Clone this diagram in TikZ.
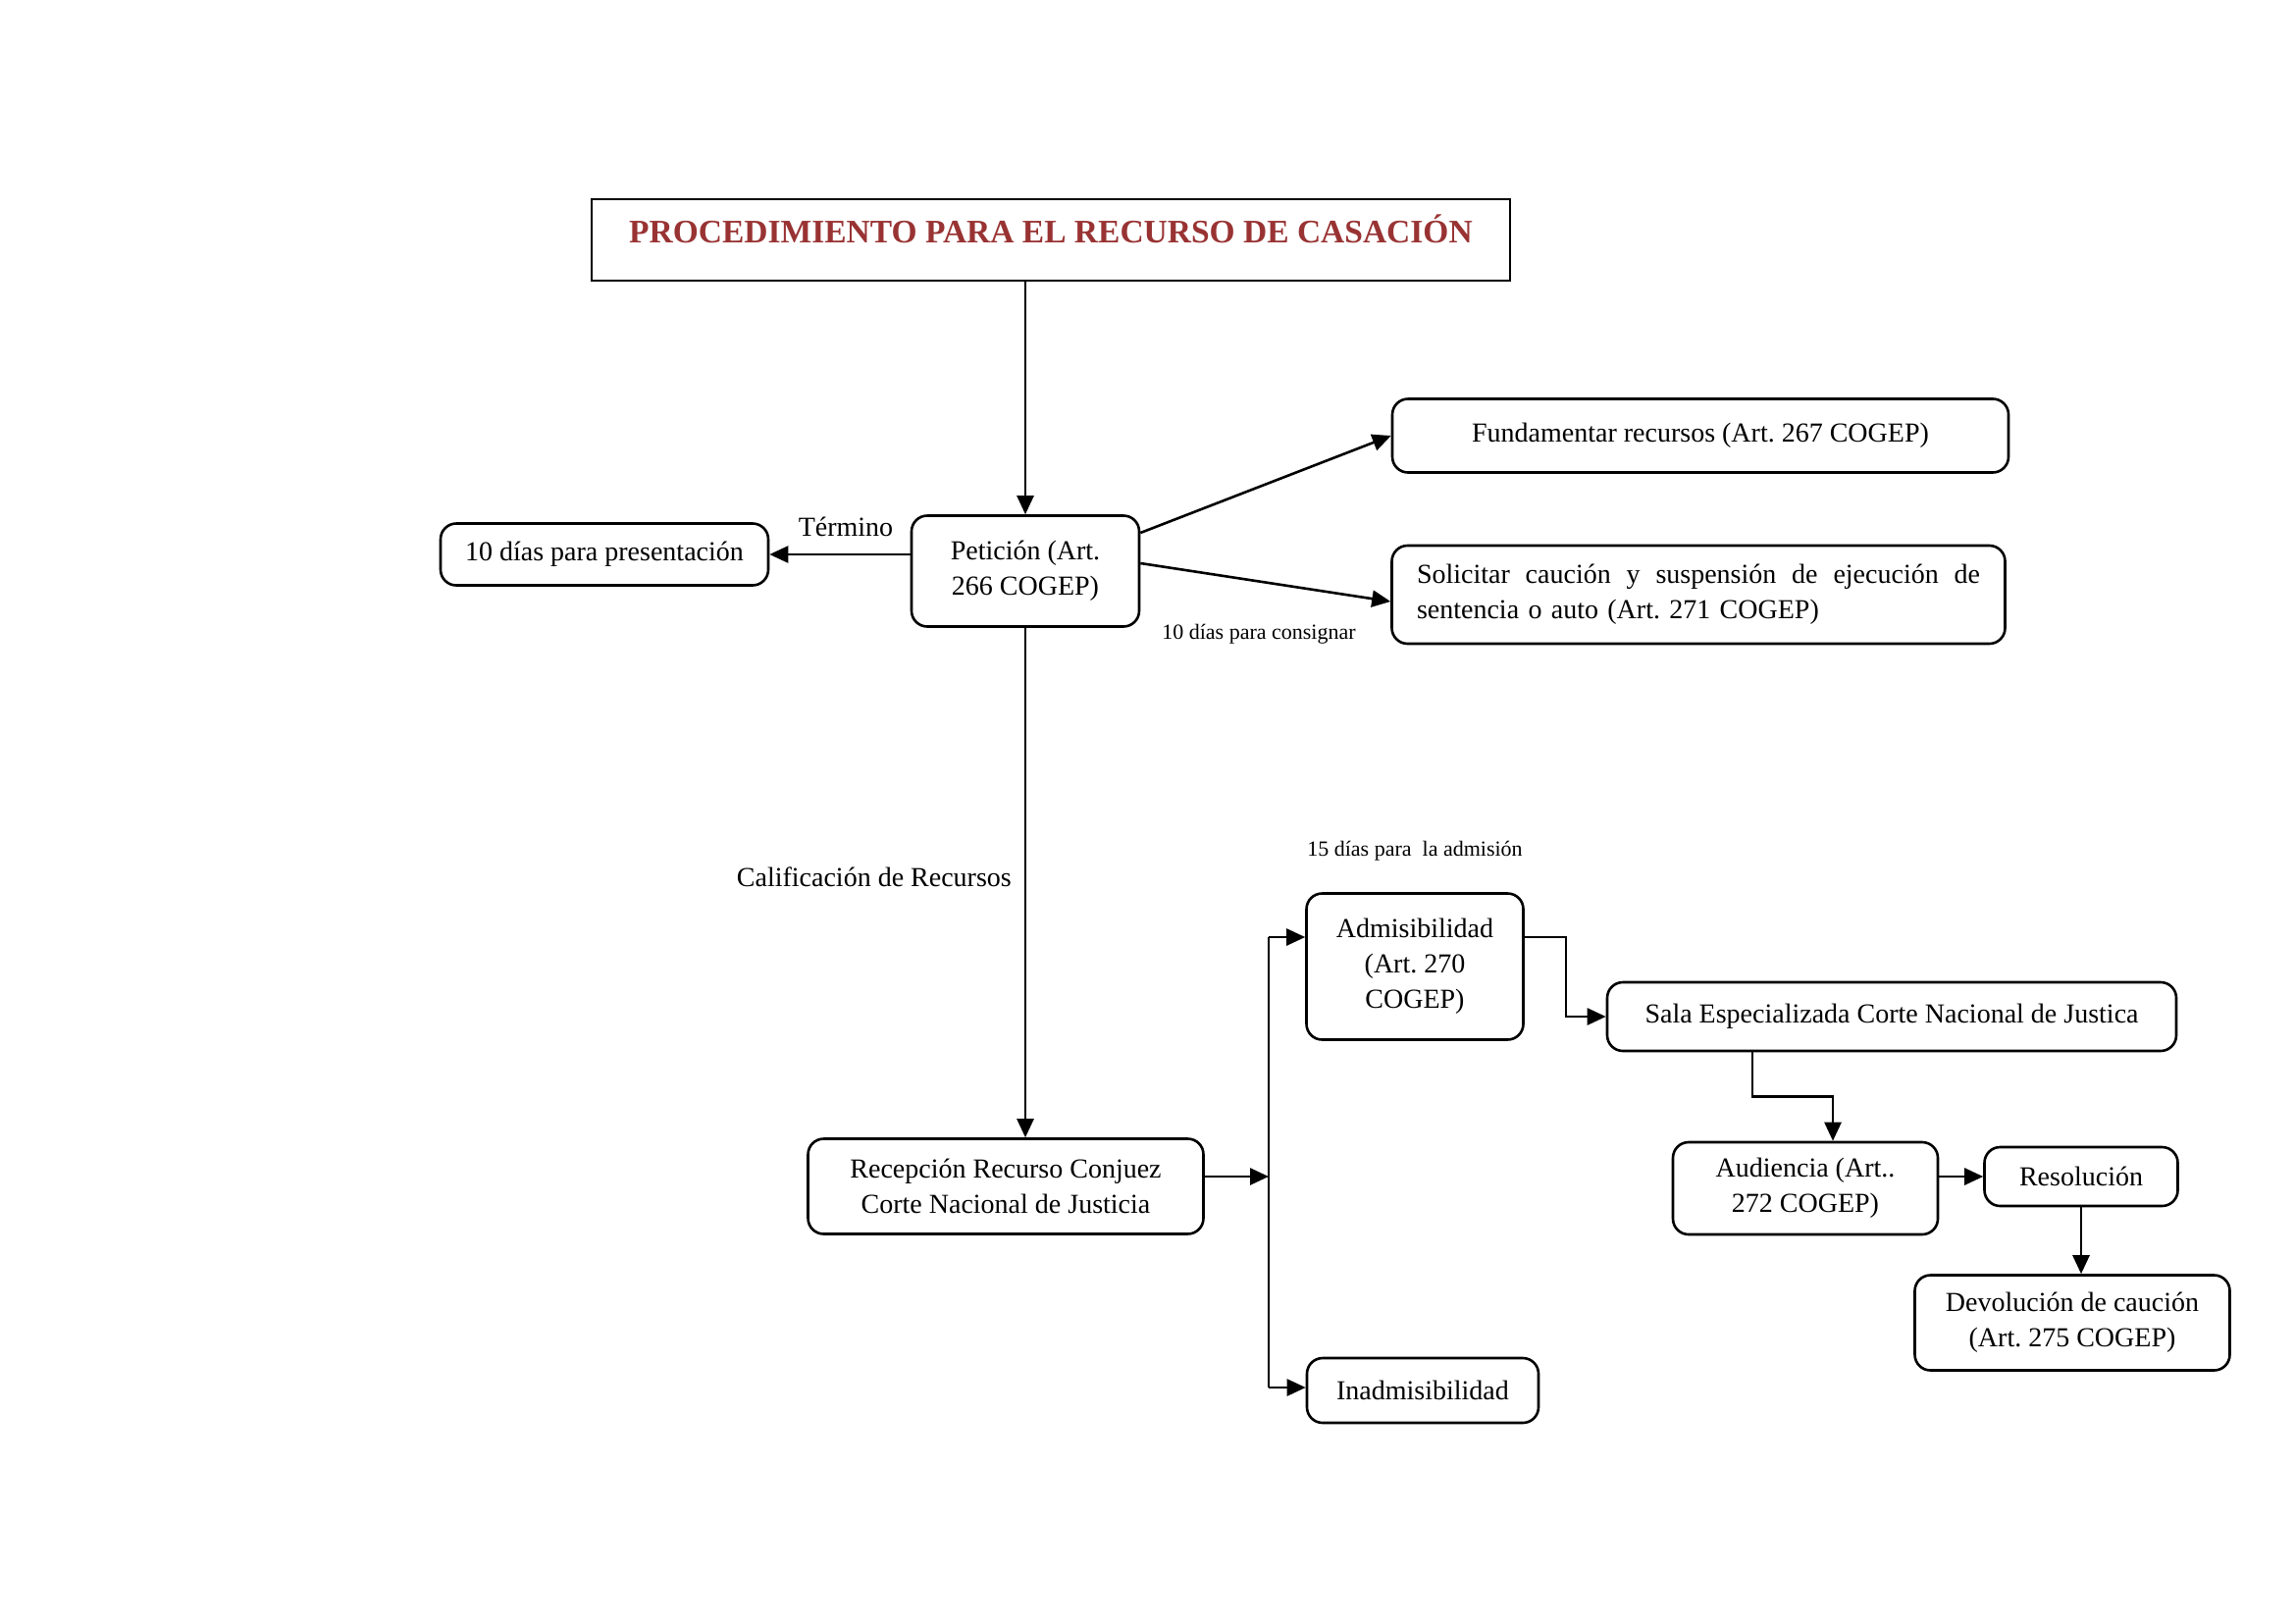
\documentclass[tikz,border=0pt]{standalone}
\usepackage{fontspec}
\setmainfont{Liberation Serif}
\usetikzlibrary{arrows.meta}
\definecolor{titlered}{RGB}{153,51,51}
\frenchspacing
\begin{document}
\begin{tikzpicture}[x=1pt,y=-1pt,
 box/.style={draw, line width=2.6pt, rounded corners=16pt, align=center, inner sep=0pt, font=\fontsize{28}{36}\selectfont},
 conn/.style={line width=2.6pt, -{Triangle[length=19pt,width=17pt]}},
 plain/.style={line width=2.6pt},
 lbl/.style={font=\fontsize{28}{36}\selectfont, inner sep=0pt},
 small/.style={font=\fontsize{22}{26}\selectfont, inner sep=0pt}]
\useasboundingbox[fill=white] (0,0) rectangle (2339,1654);

% title
\node[draw, line width=2.6pt, minimum width=936pt, minimum height=83pt, inner sep=0pt] (title) at (1071,244.5) {};
\node[font=\bfseries\fontsize{33.5}{40}\selectfont, text=titlered, inner sep=0pt] (titletext) at (1071,233) {PROCEDIMIENTO PARA EL RECURSO DE CASACIÓN};

% nodes
\node[box, minimum width=232pt, minimum height=113pt] (pet) at (1045,582) {Petición (Art.\\266 COGEP)};
\node[box, minimum width=334pt, minimum height=63pt] (ten) at (616,565) {10 días para presentación};
\node[box, minimum width=628pt, minimum height=75pt] (fund) at (1733,444) {Fundamentar recursos (Art. 267 COGEP)};
\node[box, minimum width=625pt, minimum height=100pt, text width=574pt, align=left] (sol) at (1731,606) {\hbox to 574pt{Solicitar\hfill caución\hfill y\hfill suspensión\hfill de\hfill ejecución\hfill de}\\sentencia o auto (Art. 271 COGEP)};
\node[box, minimum width=403pt, minimum height=97pt] (rec) at (1025,1209) {Recepción Recurso Conjuez\\Corte Nacional de Justicia};
\node[box, minimum width=221pt, minimum height=149pt] (adm) at (1442,985) {Admisibilidad\\(Art. 270\\COGEP)};
\node[box, minimum width=236pt, minimum height=66pt] (inad) at (1450,1417) {Inadmisibilidad};
\node[box, minimum width=580pt, minimum height=70pt] (sala) at (1928,1036) {Sala Especializada Corte Nacional de Justica};
\node[box, minimum width=270pt, minimum height=94pt] (aud) at (1840,1211) {Audiencia (Art..\\272 COGEP)};
\node[box, minimum width=197pt, minimum height=60pt] (res) at (2121,1199) {Resolución};
\node[box, minimum width=321pt, minimum height=97pt] (dev) at (2112,1348) {Devolución de caución\\(Art. 275 COGEP)};

% labels
\node[lbl] (lterm) at (862,537) {Término};
\node[small] (lcons) at (1283,646) {10 días para consignar};
\node[small] (ladm) at (1442,867) {15 días para \ la admisión};
\node[lbl, anchor=east] (lcal) at (1031,894) {Calificación de Recursos};

% connectors
\draw[conn] (pet.north |- title.south) -- (pet.north);
\draw[conn] (pet.west |- ten) -- (ten.east);
\draw[conn] ([yshift=39pt]pet.east) -- (fund.west);
\draw[conn] ([yshift=8pt]pet.east) -- ([yshift=-7pt]sol.west);
\draw[conn] (pet.south) -- (pet.south |- rec.north);

\coordinate (b1) at (1293,955);
\coordinate (b2) at (1293,1414);
\draw[conn] ([yshift=10pt]rec.east) -- ([yshift=10pt]rec.east -| b1);
\draw[plain] (b1) -- (b2);
\draw[conn] (b1) -- (b1 -| adm.west);
\draw[conn] (b2) -- (b2 -| inad.west);

\draw[conn] (adm.east |- b1) -- ++(42,0) |- (sala.west);
\draw[conn] ([xshift=-142pt]sala.south) -- ++(0,45) -| ([xshift=28pt]aud.north);
\draw[conn] (aud.east |- res) -- (res.west);
\draw[conn] (res.south) -- (res.south |- dev.north);
\end{tikzpicture}
\end{document}
